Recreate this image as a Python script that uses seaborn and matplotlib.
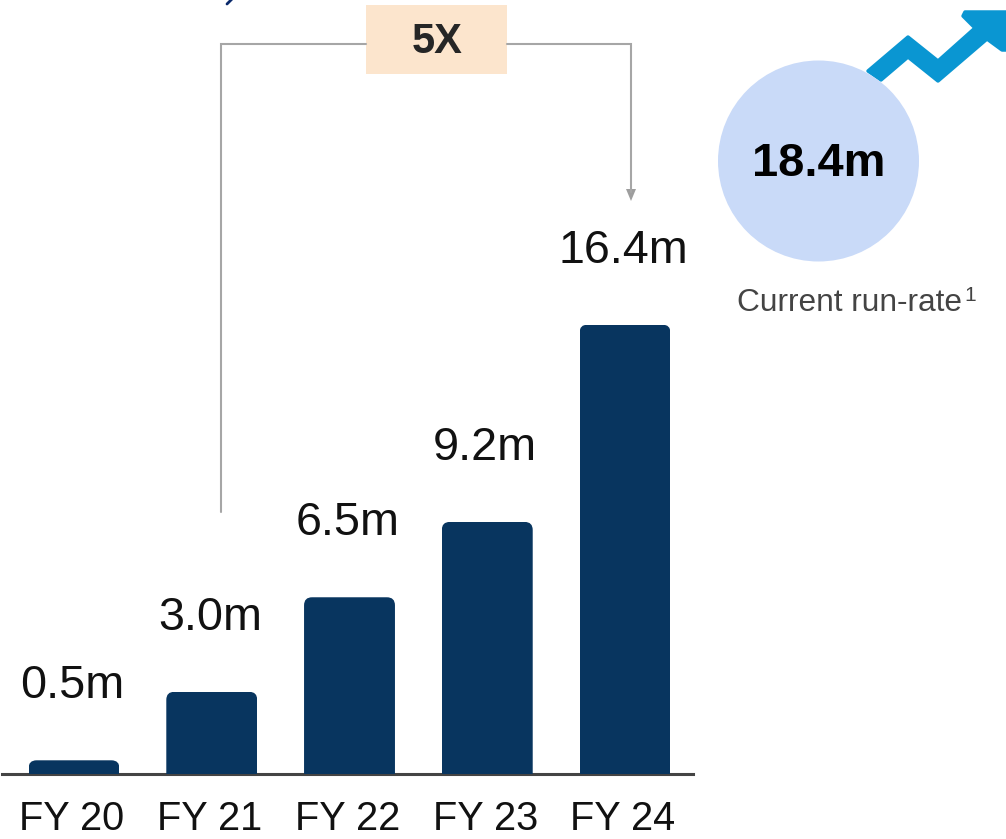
import matplotlib
matplotlib.use("Agg")
import matplotlib.pyplot as plt
import seaborn as sns
import pandas as pd
from matplotlib.patches import Circle, FancyBboxPatch, Polygon, Rectangle
from matplotlib.transforms import IdentityTransform, ScaledTranslation

years = ["FY 20", "FY 21", "FY 22", "FY 23", "FY 24"]
values = [0.5, 3.0, 6.45, 9.2, 16.4]
value_labels = ["0.5m", "3.0m", "6.5m", "9.2m", "16.4m"]
run_rate_label = "18.4m"
multiple_label = "5X"

sns.set_theme(style="white")
plt.rcParams["font.family"] = ["Liberation Sans", "DejaVu Sans"]

W, H = 1006, 839
fig = plt.figure(figsize=(W / 100, H / 100), dpi=100)
fig.patch.set_facecolor("white")

# Bars
ax = fig.add_axes([2 / W, (H - 774) / H, 691 / W, 774 / H])
df = pd.DataFrame({"year": years, "value": values})
sns.barplot(data=df, x="year", y="value", color="#08355F", saturation=1,
            width=0.66, ax=ax)
ax.set_xlim(-0.5227, 4.4936)
ax.set_ylim(0, 774 / 27.4)
ax.set_xlabel("")
ax.set_ylabel("")
ax.set_yticks([])
ax.patch.set_alpha(0)
for s in ["top", "left", "right"]:
    ax.spines[s].set_visible(False)
ax.spines["bottom"].set_color("#444444")
ax.spines["bottom"].set_linewidth(2.2)
ax.spines["bottom"].set_zorder(1)
ax.tick_params(axis="x", length=0, pad=18.8, labelsize=28.6, labelcolor="#111111")
for lab in ax.get_xticklabels():
    lab.set_transform(lab.get_transform() + ScaledTranslation(-2 / 100, 0, fig.dpi_scale_trans))

# Rounded top corners on each bar and value labels above
for bar, lab in zip(ax.patches, value_labels):
    x0, y0 = ax.transData.transform((bar.get_x(), 0))
    x1, y1 = ax.transData.transform((bar.get_x() + bar.get_width(), bar.get_height()))
    clip = FancyBboxPatch((x0, y0 - 20), x1 - x0, y1 - y0 + 20,
                          boxstyle="round,pad=0,rounding_size=8",
                          transform=IdentityTransform())
    bar.set_clip_path(clip)
    bar.set_linewidth(0)
    bar.set_zorder(3)
    ax.annotate(lab, (bar.get_x() + bar.get_width() / 2, bar.get_height()),
                xytext=(-1.4, 44.6), textcoords="offset points", ha="center",
                va="baseline", fontsize=33.7, color="#111111")

# Pixel-space overlay for the annotations
ov = fig.add_axes([0, 0, 1, 1], zorder=5)
ov.set_xlim(0, W)
ov.set_ylim(H, 0)
ov.axis("off")
ov.patch.set_alpha(0)

grey = "#A6A6A6"
ov.plot([221, 221, 366], [512, 44, 44], color=grey, lw=1.5, solid_joinstyle="miter")
ov.plot([507, 631, 631], [44, 44, 192], color=grey, lw=1.5, solid_joinstyle="miter")
ov.add_patch(Polygon([(626, 189), (636, 189), (631, 201)], closed=True, fc="#9E9E9E", ec="none"))
ov.add_patch(Rectangle((366, 5), 141, 69, fc="#FCE5CD", ec="none"))
ov.text(437.5, 42, multiple_label, ha="center", va="center", fontsize=30,
        fontweight="bold", color="#262626")

# Fragment of clipped heading at the very top
ov.plot([232, 227], [-1, 4], color="#0B2A6B", lw=2)

# Trend arrow
arrow = [(868, 71), (908, 37), (938, 61), (975, 28), (963, 16), (965, 12),
         (1012, 12), (1012, 50), (1002, 50), (987, 39), (938, 81), (908, 57), (881, 80)]
ov.add_patch(Polygon(arrow, closed=True, fc="#0A96D2", ec="#0A96D2", lw=2.5, joinstyle="round"))

# Run-rate circle
ov.add_patch(Circle((818.5, 161), 100.5, fc="#C9DAF8", ec="none"))
ov.text(818.5, 164, run_rate_label, ha="center", va="center", fontsize=33.8,
        fontweight="bold", color="black")
ov.text(737, 311, "Current run-rate", ha="left", va="baseline", fontsize=22.8, color="#444444")
ov.text(964, 301, "1", ha="left", va="baseline", fontsize=15, color="#444444")

fig.savefig("out.png", dpi=100, facecolor="white")
